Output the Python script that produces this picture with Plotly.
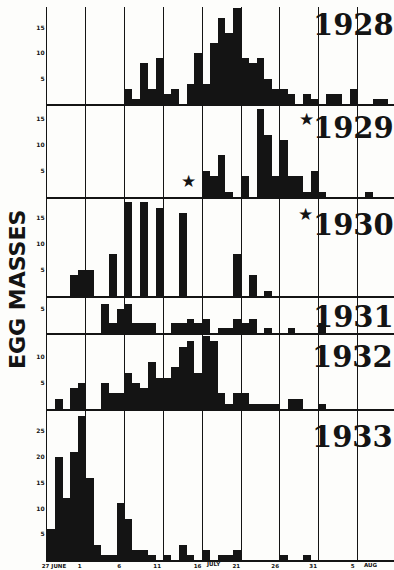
import plotly.graph_objects as go

W, H = 394, 570

# ---- data: egg masses per day, day 0 = 27 June ----
day_index = list(range(45))

def expand(pairs):
    vals = [0] * 45
    for d, v in pairs:
        vals[d] = v
    return vals

eggs_1928 = expand([(10, 3), (11, 1), (12, 8), (13, 3), (14, 9), (15, 2), (16, 3), (18, 4), (19, 10),
                    (20, 4), (21, 12), (22, 17), (23, 14), (24, 19), (25, 9), (26, 8), (27, 9), (28, 5),
                    (29, 3), (30, 3), (31, 2), (33, 2), (34, 1), (36, 2), (37, 2), (39, 3), (42, 1), (43, 1)])
eggs_1929 = expand([(20, 5), (21, 4), (22, 8), (23, 1), (25, 4), (27, 17), (28, 12), (29, 4), (30, 11),
                    (31, 4), (32, 4), (33, 1), (34, 5), (35, 1), (41, 1)])
eggs_1930 = expand([(3, 4), (4, 5), (5, 5), (8, 8), (10, 18), (12, 18), (14, 17), (17, 16), (24, 8),
                    (26, 4), (28, 1)])
eggs_1931 = expand([(7, 6), (8, 2), (9, 5), (10, 6), (11, 2), (12, 2), (13, 2), (16, 2), (17, 2), (18, 3),
                    (19, 2), (20, 3), (22, 1), (23, 1), (24, 3), (25, 2), (26, 3), (28, 1), (31, 1), (35, 2)])
eggs_1932 = expand([(1, 2), (3, 4), (4, 5), (7, 5), (8, 3), (9, 3), (10, 7), (11, 5), (12, 4), (13, 9),
                    (14, 6), (15, 6), (16, 8), (17, 12), (18, 13), (19, 7), (20, 14), (21, 13), (22, 3),
                    (23, 1), (24, 3), (25, 3), (26, 1), (27, 1), (28, 1), (29, 1), (31, 2), (32, 2), (35, 1)])
eggs_1933 = expand([(0, 6), (1, 20), (2, 12), (3, 21), (4, 28), (5, 16), (6, 3), (7, 1), (8, 1), (9, 11),
                    (10, 8), (11, 2), (12, 2), (13, 1), (15, 1), (17, 3), (18, 1), (20, 2), (22, 1),
                    (23, 1), (24, 2), (30, 1), (33, 1)])

years = ["1928", "1929", "1930", "1931", "1932", "1933"]
series = [eggs_1928, eggs_1929, eggs_1930, eggs_1931, eggs_1932, eggs_1933]
y_ticks = [[5, 10, 15], [5, 10, 15], [5, 10, 15], [5], [5, 10], [5, 10, 15, 20, 25]]
x_tick_vals = [0.4, 3.7, 8.8, 13.7, 18.9, 23.9, 28.9, 33.8, 38.9, 43.9]
x_tick_text = ["27 JUNE", "1", "6", "11", "16", "21", "26", "31", "5", "10"]
grid_days = [-0.5 + 5 * i for i in range(9)]
month_words = ["JULY", "AUG"]

# ---- layout geometry (pixels) ----
panel_top = [7, 104, 197, 296, 333, 409]
panel_bot = [104, 197, 296, 333, 409, 560]
px_per_unit = [5.07, 5.2, 5.2, 4.8, 5.2, 5.15]
x_left_px = 47
px_per_day = 7.76
x_max = -0.5 + (W - x_left_px) / px_per_day

INK = "#141414"
fig = go.Figure()
for i, (yr, vals) in enumerate(zip(years, series)):
    n = "" if i == 0 else str(i + 1)
    fig.add_trace(go.Bar(x=day_index, y=vals, width=1.0, xaxis="x" + n, yaxis="y" + n,
                         marker=dict(color=INK, line=dict(width=0)), showlegend=False, name=yr))
    last = i == len(years) - 1
    xa = dict(domain=[x_left_px / W, 1], range=[-0.5, x_max], anchor="y" + n,
              showline=True, linecolor=INK, linewidth=1.6, mirror=False,
              showgrid=False, zeroline=False, ticks="",
              minor=dict(tickmode="array", tickvals=grid_days, showgrid=True,
                         gridcolor=INK, gridwidth=1.3, ticks=""),
              fixedrange=True)
    if last:
        xa.update(tickmode="array", tickvals=x_tick_vals, ticktext=x_tick_text,
                  tickfont=dict(family="DejaVu Sans", size=5.5, color=INK, weight="bold"),
                  showticklabels=True, ticklabelstandoff=0)
    else:
        xa.update(showticklabels=False)
    t, b = panel_top[i], panel_bot[i]
    ya = dict(domain=[1 - b / H, 1 - t / H], range=[0, (b - t) / px_per_unit[i]], anchor="x" + n,
              showline=True, linecolor=INK, linewidth=1.4, showgrid=False, zeroline=False,
              tickmode="array", tickvals=y_ticks[i], ticks="",
              tickfont=dict(family="DejaVu Sans", size=6, color=INK, weight="bold"),
              fixedrange=True)
    fig.update_layout(**{"xaxis" + n: xa, "yaxis" + n: ya})

# ---- year labels, stars ----
year_pos = [(311, 6), (311, 109), (311, 206), (311, 298), (310, 338), (310, 418)]
for (px, py), txt in zip(year_pos, years):
    fig.add_annotation(x=px / W, y=1 - py / H, xref="paper", yref="paper", text=txt,
                       showarrow=False, xanchor="left", yanchor="top",
                       font=dict(family="DejaVu Serif", size=29, color=INK, weight="bold"))
for px, py in [(306, 119), (188, 181), (305, 214)]:
    fig.add_annotation(x=px / W, y=1 - py / H, xref="paper", yref="paper", text="★",
                       showarrow=False, xanchor="center", yanchor="middle",
                       font=dict(family="DejaVu Sans", size=17, color=INK))

# month words beside tick labels
for px, txt in zip([214, 371], month_words):
    fig.add_annotation(x=px / W, y=1 - 564.5 / H, xref="paper", yref="paper", text=txt,
                       showarrow=False, xanchor="center", yanchor="middle",
                       font=dict(family="DejaVu Sans", size=5.5, color=INK, weight="bold"))

fig.add_annotation(x=17 / W, y=1 - 290 / H, xref="paper", yref="paper", text="EGG MASSES",
                   textangle=-90, showarrow=False, xanchor="center", yanchor="middle",
                   font=dict(family="DejaVu Sans", size=22, color=INK, weight="bold"))

fig.update_layout(width=W, height=H, margin=dict(l=0, r=0, t=0, b=0, autoexpand=False),
                  paper_bgcolor="#fdfdfb", plot_bgcolor="#fdfdfb", bargap=0, barmode="overlay")
fig.write_html("out.html")
